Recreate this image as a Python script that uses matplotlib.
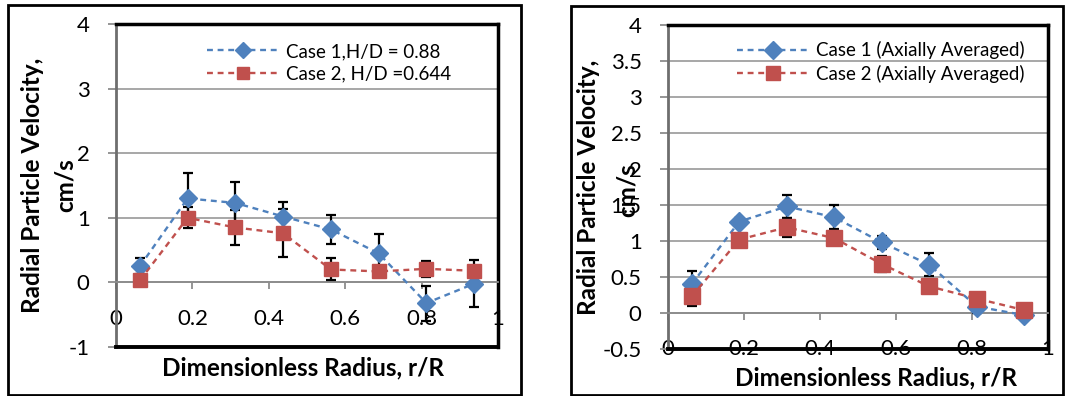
import numpy as np
import matplotlib
matplotlib.use("Agg")
import matplotlib.pyplot as plt
from matplotlib.patches import Rectangle

plt.rcParams["font.family"] = ["Lato", "DejaVu Sans"]
plt.rcParams["axes.unicode_minus"] = False

W, H = 1065, 396

# r/R bin centres
r_R = [0.0625, 0.1875, 0.3125, 0.4375, 0.5625, 0.6875, 0.8125, 0.9375]

# left panel: single height
left_case1     = [0.25, 1.30, 1.23, 1.02, 0.82, 0.45, -0.32, -0.02]
left_case1_err = [0.12, 0.39, 0.32, 0.23, 0.23, 0.30, 0.27, 0.36]
left_case2     = [0.03, 1.00, 0.85, 0.76, 0.20, 0.17, 0.21, 0.18]
left_case2_err = [0.06, 0.16, 0.27, 0.37, 0.17, 0.06, 0.12, 0.06]
left_labels    = ["Case 1,H/D = 0.88", "Case 2, H/D =0.644"]

# right panel: axially averaged
right_case1     = [0.40, 1.27, 1.48, 1.33, 0.98, 0.67, 0.09, -0.03]
right_case1_err = [0.18, 0.05, 0.16, 0.17, 0.09, 0.16, 0.09, 0.05]
right_case2     = [0.23, 1.02, 1.19, 1.04, 0.68, 0.37, 0.20, 0.04]
right_case2_err = [0.13, 0.05, 0.13, 0.05, 0.11, 0.05, 0.05, 0.09]
right_labels    = ["Case 1 (Axially Averaged)", "Case 2 (Axially Averaged)"]

BLUE = "#4F81BD"
RED  = "#C0504D"
GRID = "#A0A0A0"


def px_rect(x0, y0, x1, y1):
    # pixel box (top-left origin) -> figure fraction rect
    return [x0 / W, 1 - y1 / H, (x1 - x0) / W, (y1 - y0) / H]


def panel(rect, ylim, ystep, c1, e1, c2, e2, labels, leg_xy, ms):
    ax = fig.add_axes(rect)
    ax.set_xlim(0, 1)
    ax.set_ylim(*ylim)
    ax.set_xticks(np.arange(0, 1.01, 0.2))
    ax.set_yticks(np.arange(ylim[0], ylim[1] + 0.001, ystep))
    fmt = plt.FuncFormatter(lambda v, _: f"{v:g}")
    ax.xaxis.set_major_formatter(fmt)
    ax.yaxis.set_major_formatter(fmt)

    ax.yaxis.grid(True, color=GRID, lw=1.3)
    ax.set_axisbelow(True)

    ax.spines["bottom"].set_position(("data", 0))
    ax.spines["bottom"].set_color("#8C8C8C")
    ax.spines["bottom"].set_linewidth(1.3)
    ax.spines["left"].set_color("#6E6E6E")
    ax.spines["left"].set_linewidth(2)
    for s in ("top", "right"):
        ax.spines[s].set_color("black")
        ax.spines[s].set_linewidth(2.5)
    ax.axhline(ylim[0], color="black", lw=2.8, clip_on=False, zorder=5)

    ax.tick_params(axis="x", direction="out", length=5, width=1.3,
                   color="#8C8C8C", pad=14, labelsize=16)
    ax.tick_params(axis="y", direction="out", length=6, width=1.3,
                   color="#8C8C8C", pad=13, labelsize=16)

    ax.errorbar(r_R, c1, yerr=e1, fmt="none", ecolor="black", elinewidth=1.6,
                capsize=3.5, capthick=1.6, zorder=3)
    ax.errorbar(r_R, c2, yerr=e2, fmt="none", ecolor="black", elinewidth=1.6,
                capsize=3.5, capthick=1.6, zorder=3)
    ax.plot(r_R, c1, ls=(0, (2.5, 2)), lw=1.7, color=BLUE, marker="D",
            ms=ms, mec=BLUE, label=labels[0], zorder=4, clip_on=False)
    ax.plot(r_R, c2, ls=(0, (2.5, 2)), lw=1.7, color=RED, marker="s",
            ms=ms + 1, mec=RED, label=labels[1], zorder=4, clip_on=False)

    ax.legend(loc="upper left", bbox_to_anchor=(leg_xy[0] / W, 1 - leg_xy[1] / H),
              bbox_transform=fig.transFigure, frameon=False, fontsize=13.5,
              borderpad=0, borderaxespad=0, handlelength=3.8, handletextpad=0.4,
              labelspacing=0.3, markerscale=0.85)
    return ax


fig = plt.figure(figsize=(W / 100, H / 100), dpi=100)

# outer chart boxes
fig.add_artist(Rectangle((8 / W, 1 - 395 / H), 513 / W, 390 / H,
                         transform=fig.transFigure, fill=False, ec="black", lw=2))
fig.add_artist(Rectangle((571 / W, 1 - 395 / H), 492 / W, 389 / H,
                         transform=fig.transFigure, fill=False, ec="black", lw=2))

panel(px_rect(116, 24, 498, 347), (-1, 4), 1,
      left_case1, left_case1_err, left_case2, left_case2_err,
      left_labels, (207, 43), 9.5)
panel(px_rect(668, 25, 1048, 349), (-0.5, 4), 0.5,
      right_case1, right_case1_err, right_case2, right_case2_err,
      right_labels, (737, 41), 10.5)

lab = dict(fontsize=17.5, fontweight="bold", ha="center", va="center")
fig.text(303 / W, 1 - 368 / H, "Dimensionless Radius, r/R", **lab)
fig.text(876 / W, 1 - 378 / H, "Dimensionless Radius, r/R", **lab)
fig.text(33 / W, 1 - 185 / H, "Radial Particle Velocity,", rotation=90, **lab)
fig.text(65 / W, 1 - 185 / H, "cm/s", rotation=90, **lab)
fig.text(588 / W, 1 - 187 / H, "Radial Particle Velocity,", rotation=90, **lab)
fig.text(627 / W, 1 - 190 / H, "cm/s", rotation=90, **lab)

fig.savefig("out.png", dpi=100)
